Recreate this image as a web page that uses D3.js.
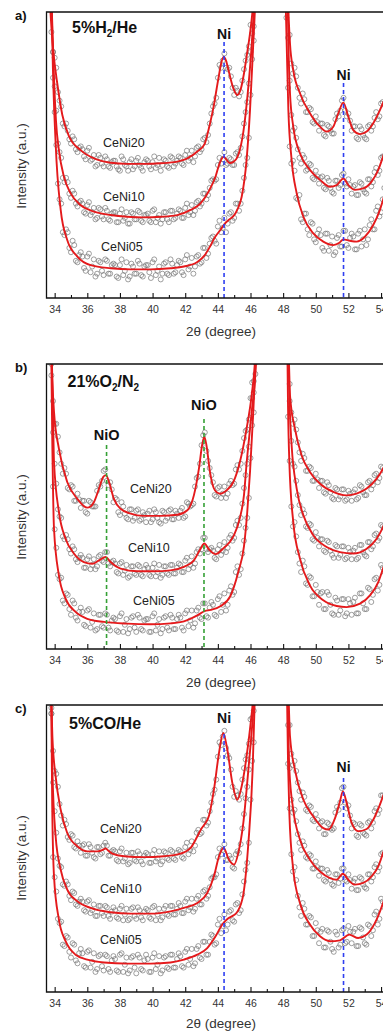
<!DOCTYPE html>
<html>
<head>
<meta charset="utf-8">
<script src="https://cdnjs.cloudflare.com/ajax/libs/d3/7.8.5/d3.min.js"></script>
<style>
  body { margin: 0; background: #fff; }
  svg { display: block; font-family: Arial, "Liberation Sans", sans-serif; }
</style>
</head>
<body>
<svg id="svg" width="383" height="1032"></svg>
<script>
// ---- axis ticks ----
const majorTicks = [34, 36, 38, 40, 42, 44, 46, 48, 50, 52, 54, 56];
const minorTicks = [35, 37, 39, 41, 43, 45, 47, 49, 51, 53, 55];
const sampleNames = ['CeNi20', 'CeNi10', 'CeNi05'];

// ---- 2theta scan points (left and right of the CeO2 (200) reflection) ----
const scanLeft = [33.6,33.8,34.0,34.2,34.4,34.6,34.8,35.0,35.2,35.4,35.6,35.8,36.0,36.2,36.4,36.6,36.8,37.0,37.2,37.4,
  37.6,37.8,38.0,38.2,38.4,38.6,38.8,39.0,39.2,39.4,39.6,39.8,40.0,40.2,40.4,40.6,40.8,41.0,41.2,41.4,
  41.6,41.8,42.0,42.2,42.4,42.6,42.8,43.0,43.2,43.4,43.6,43.8,44.0,44.2,44.4,44.6,44.8,45.0,45.2,45.4,
  45.6,45.8,46.0,46.2,46.4];
const scanLeftMid = [33.7,33.9,34.1,34.3,34.5,34.7,34.9,35.1,35.3,35.5,35.7,35.9,36.1,36.3,36.5,36.7,36.9,37.1,37.3,37.5,
  37.7,37.9,38.1,38.3,38.5,38.7,38.9,39.1,39.3,39.5,39.7,39.9,40.1,40.3,40.5,40.7,40.9,41.1,41.3,41.5,
  41.7,41.9,42.1,42.3,42.5,42.7,42.9,43.1,43.3,43.5,43.7,43.9,44.1,44.3,44.5,44.7,44.9,45.1,45.3,45.5,
  45.7,45.9,46.1,46.3];
const scanRight = [48.2,48.4,48.6,48.8,49.0,49.2,49.4,49.6,49.8,50.0,50.2,50.4,50.6,50.8,51.0,51.2,51.4,51.6,51.8,52.0,
  52.2,52.4,52.6,52.8,53.0,53.2,53.4,53.6,53.8,54.0,54.2,54.4,54.6];
const scanRightMid = [48.3,48.5,48.7,48.9,49.1,49.3,49.5,49.7,49.9,50.1,50.3,50.5,50.7,50.9,51.1,51.3,51.5,51.7,51.9,52.1,
  52.3,52.5,52.7,52.9,53.1,53.3,53.5,53.7,53.9,54.1,54.3,54.5];

// ---- observed intensities (a.u., 0..100 = plot height) ----
// a) 5%H2/He
const obsH2_20L = [118,93,84,72,67,60,58.5,54,55.5,51, 53,49.5,51.5,48,50,46.5,49,46,48.5,45.5,
  48,46,44.5,48.5,46,47.5,45,48,46.5,44.5, 48.5,46,47.5,45.5,49,46.5,48,45.5,49,47,
  49.5,47,50,48,51.5,49.5,53,52,56,57, 64.5,68,77,80.5,85.5,80,77.5,71,72.5,72, 80,85,95.5,104,118];
const obsH2_20Lm = [105,86,80.5,69,61,61,55.5,56.5,52,52.5, 52,48.5,52.5,48.5,46,50,47,49.5,46,47.5,
  48,45,49.5,46.5,44.5,48.5,46,49,45.5,47.5, 48,45,49.5,46.5,44.5,48.5,46,49.5,46,48,
  49,46.5,51.5,49,47.5,52.5,51,55.5,54.5,61, 67,70,81.5,83,80.5,80.5,73.5,73.5,70.5,76, 83,88,102.5,112.5];
const obsH2_20R = [115,92,78.5,77.5,70,71.5,65,66.5,61.5,63.5, 58.5,61,56.5,60,57.5,62.5,63.5,69,65.5,64.5,
  58.5,60,55.5,59,56,60,58.5,63,62.5,68, 67.5,73.5,74];
const obsH2_20Rm = [101,82,80.5,73.5,68,69.5,65,66,61,61.5, 61,57,60.5,58.5,57.5,64.5,65.5,70,63.5,62,
  60,56,60,57,55.5,60.5,60,65,63.5,68.5, 71.5,71.5];
const obsH2_10L = [120,102,74,54,49,40.5,40.5,35,36.5,32, 34,30,32.5,29,31.5,28,31,27.5,30.5,27,
  30,26.5,29.5,27,30,26,29.5,27.5,30,26.5, 29,27,30.5,26.5,29,27.5,30,26.5,30.5,28,
  31,28,31.5,29,32.5,30.5,34,33,36.5,36, 41,41,46.5,47,51,47,48.5,46.5,51,52.5, 61,68.5,86,95,112];
const obsH2_10Lm = [116,86,65.5,51,42,42,36.5,37.5,33,33.5, 33,29.5,33.5,30,27.5,31.5,28.5,31.5,27.5,29.5,
  30,26.5,31,28,26,30,27.5,30.5,27,29, 29.5,26.5,31,28,26,30,27.5,30.5,27.5,29.5,
  30.5,28,33,30,29,33.5,32,36.5,34.5,38.5, 41.5,41.5,49,48.5,46.5,49,46.5,50.5,50,56.5, 65,75,92.5,105.5];
const obsH2_10R = [112,76,58.5,56,49,50,44.5,47,42,44.5, 40,42.5,38,41,37,41,38.5,43,40,41.5,
  36.5,39.5,36,40,37,41.5,39,44,43,49, 49.5,56,56.5];
const obsH2_10Rm = [91,64,59.5,52,47,49,45,46.5,41.5,42.5, 42,38.5,42,38.5,36.5,41,39.5,43.5,39,39.5,
  39,36,40.5,38,36.5,41.5,40.5,45.5,44.5,49.5, 53.5,53.5];
const obsH2_05L = [125,104,65,40,33,22,23,16,18.5,12.5, 16,10.5,14.5,9,13.5,8.5,12.5,8,13,8.5,
  12,7.5,11.5,8,12.5,7.5,11,8.5,12,7.5, 11.5,9,12.5,8,11,8.5,12.5,8,12,9,
  13,9,13.5,10,14,11,15,12.5,17.5,15.5, 21,20,25,23,28,26,30,28,33,33, 42,49,71,90,112];
const obsH2_05Lm = [126,77,53.5,34.5,23,24,17.5,20,13,15, 14.5,9.5,15.5,11,7.5,13,9.5,13.5,8.5,11.5,
  11.5,7,13.5,9.5,6.5,12,8.5,13,8,11, 11.5,7,13.5,9.5,6.5,12,8.5,13.5,8.5,11.5,
  12.5,8,15,11,8.5,14.5,12,17.5,14,19, 21.5,19,27,24.5,23,29.5,27,33,30.5,37.5, 46.5,56,83.5,102.5];
const obsH2_05R = [98,53,48,35,36,26.5,29.5,22,26,19.5, 24,17.5,22.5,16.5,21.5,16,22,18,23.5,17.5,
  22.5,17,22.5,18,24,20.5,27.5,24,32,30, 38.5,38,47];
const obsH2_05Rm = [73.5,47,44.5,34.5,27.5,29.5,24,26.5,20.5,22.5, 22,16.5,22.5,18.5,15,21,18,23.5,18.5,21,
  21.5,17,23.5,20.5,18.5,25.5,24,30.5,28.5,34.5, 39,39];

// b) 21%O2/N2
const obsO2_20L = [120,103,79,74.5,65,63.5,56.5,57.5,52,54.5, 49.5,52,47.5,51.5,50,55.5,57,62.5,59,58.5,
  51.5,52.5,47,50,46,49,45,48.5,45,48, 44.5,48.5,45.5,48,44.5,48.5,45,48.5,45.5,48.5,
  46,49.5,46.5,51,50.5,57,60.5,71.5,76,66, 61,54,56.5,53,57,54.5,59,58,64.5,65, 74,77,88,94,113];
const obsO2_20Lm = [113,87,79,69,61.5,61.5,56,57,52,52.5, 52,48,52,50,50,57.5,59,63,57.5,56,
  53,48,51.5,47.5,45.5,49,46,49,45.5,47, 47.5,44.5,49,46,44,48,46,49,45.5,47.5,
  48.5,46,51.5,50,51,60,65,75,69.5,63.5, 58.5,53.5,57,54.5,53,58,57.5,63,63,69.5, 76.5,80.5,93.5,104.5];
const obsO2_20R = [118,93,79,77,69,68.5,62.5,64,59,61.5, 56.5,59,54.5,57.5,53,56.5,52.5,56,52,55.5,
  52,56,53,57,54,58.5,56,61,58.5,64, 62.5,69,68.5];
const obsO2_20Rm = [101,83,80.5,72.5,66,67,62.5,63.5,59,59.5, 59,55,58.5,55,52.5,56,53.5,56,52.5,54.5,
  55,52.5,57.5,55,54,59,57.5,61.5,60,63.5, 66.5,66.5];
const obsO2_10L = [118,100,65,49,46,38.5,38.5,33.5,35,30.5, 33,28.5,31.5,28,31.5,29,33,30.5,34,29,
  31,27,30,26,29.5,25.5,29,26,29,25.5, 29.5,26,28.5,25.5,29.5,26,29,26,29.5,26.5,
  30,27,31,28,32.5,30,35,35,39,34, 35.5,32,35,33,37.5,35.5,40,39,45,46, 56.5,65,81,90,108];
const obsO2_10Lm = [119,76,58,46.5,39.5,40,35,36,31.5,32, 32,28.5,32.5,29.5,28,32.5,31,34,30,30.5,
  30,26.5,30.5,27.5,25,29,26.5,29.5,26,28, 28.5,25.5,30,27,25,29,26.5,29.5,26.5,28.5,
  29.5,27,32,29.5,28.5,34,33.5,39,35,35, 34.5,31.5,36.5,34.5,34,39,38,43.5,43.5,51, 61,71,88,100.5];
const obsO2_10R = [115,87,65,59,50.5,49,43,44,38.5,41, 36,38.5,34,37.5,33,36.5,32,36,31.5,35.5,
  31.5,35.5,32,36.5,33,37.5,35,40,38,43.5, 42.5,49,49];
const obsO2_10Rm = [101,73,64,54,47,47.5,42.5,43.5,38,39, 38.5,34.5,38,34.5,32,36,33,36,32,34,
  34.5,31.5,36.5,34,32.5,37.5,36,40.5,39,43, 46.5,46.5];
const obsO2_05L = [125,96,42,26,25,16,19,12,16,10, 14.5,8.5,13.5,7.5,12.5,7,12,7.5,12,6.5,
  11,6.5,11.5,6,10.5,7,11.5,6,11,6.5, 10.5,6,11.5,6.5,10.5,7,11.5,6.5,11,7,
  12,7.5,12.5,8,13.5,9,14.5,10.5,16,11, 16.5,12,17.5,13,19.5,15.5,22,20,29,28, 38,46,67,83,106];
const obsO2_05Lm = [119.5,57,35.5,24.5,17,19.5,14,17,11,13, 13,8,14,9.5,6.5,12,8,12.5,7.5,10,
  10.5,6,12.5,8.5,5.5,11,7.5,12,7,10, 10.5,6,12.5,8.5,5.5,11,7.5,12,7,10.5,
  11,6.5,13.5,10,7.5,13.5,11,16,11.5,14.5, 15.5,11.5,18.5,15.5,13.5,20.5,19,27,26,33.5, 42.5,53,78.5,96.5];
const obsO2_05R = [110,66,43,39.5,30,31,23,25.5,18.5,22.5, 15.5,20,14,19,12.5,18,12,17.5,11.5,17.5,
  12,18,12.5,19.5,14,21.5,16.5,24.5,20.5,29.5, 27,36.5,35];
const obsO2_05Rm = [81.5,50,44.5,34,27,29,22.5,25,18.5,20, 19.5,14,20,15.5,12,17,13.5,17.5,12.5,16,
  16.5,12.5,19.5,16,14,21,19,25,22.5,28.5, 32.5,32];

// c) 5%CO/He
const obsCO_20L = [116,97,77,71.5,61.5,60,54,55,50.5,52.5, 48.5,51.5,47.5,50.5,47,50.5,48,51,51,47.5,
  49.5,46,49,45.5,48.5,45,48.5,45.5,48,44.5, 48.5,45,48,45.5,49,45.5,48.5,46,49,46,
  49.5,47,50.5,48,52.5,51,56.5,55.5,60,59, 66,70.5,82,86,91,82.5,77.5,68,68.5,69, 78,82.5,95,104,117];
const obsCO_20Lm = [107,84,76,65.5,58,58.5,53,54.5,50,51, 51,47.5,51.5,48.5,46.5,50.5,48.5,52,47.5,49,
  49,45.5,50,46.5,44.5,48.5,46,49,45.5,47.5, 48,45,49.5,46.5,44.5,49,46.5,49.5,46.5,48.5,
  49,46.5,52,49.5,49,55.5,55,60,58,63, 69,74,87,89,85,81.5,71.5,70,67,74, 81,86.5,101.5,112.5];
const obsCO_20R = [120,93,79,77,70,69.5,63.5,65,60,62, 57,59.5,55,58.5,56.5,62.5,63.5,71,66,65,
  57,58.5,54,58,55,59,57,63,62,68.5, 68,74,73.5];
const obsCO_20Rm = [101,83,80.5,73,67,68,63,64.5,59.5,60, 59,55,59,57,57,64.5,66,71.5,64,61.5,
  59,54.5,58.5,55.5,54.5,59.5,59,64,63.5,68.5, 71.5,71.5];
const obsCO_10L = [120,97,63,46.5,43.5,37,37.5,32,34.5,30, 32.5,28.5,31.5,27.5,30.5,26.5,30,26.5,29.5,25.5,
  29.5,26,29,25,29,25.5,29.5,25.5,28.5,25, 29,26,29.5,25,29,26,30,26.5,30,27,
  31,27.5,31.5,28.5,32.5,29,33.5,30.5,35.5,33.5, 39.5,40,47,48,51.5,46,46.5,43,49,51.5, 62,71.5,88,98,115];
const obsCO_10Lm = [116,73,55.5,44,37.5,38.5,33.5,35,30.5,31.5, 31.5,28,32,28.5,26.5,30,27.5,30,26.5,28,
  28.5,25.5,30,27,25,29,26.5,29.5,26,28, 28.5,25.5,30,27,25,29,27,30,27,29,
  30,27.5,32.5,29.5,28,32.5,30.5,35,32.5,36.5, 40,41,50,49.5,46,47.5,43.5,48,48.5,57, 67.5,77.5,95.5,107.5];
const obsCO_10R = [115,78,62.5,59.5,52,52.5,47,48,43,45.5, 40.5,43,38.5,41.5,37.5,41,38,43,39,41,
  36,39.5,35.5,39.5,36.5,41,38.5,43.5,42,48, 48,55,55];
const obsCO_10Rm = [93,67,63.5,55,49.5,51,46.5,47.5,43,43.5, 43,39,42.5,39,37,41,39.5,43,38.5,39,
  38.5,35.5,40,37.5,36,41,40,44.5,43.5,48.5, 52.5,53];
const obsCO_05L = [126,99,40,25.5,24.5,16,19,12,16.5,10, 15,9,14,8.5,13.5,8,13,7.5,12.5,7,
  12.5,7.5,13,7,12,7.5,12.5,6.5,12,7.5, 13,7,12,8,12.5,7.5,12.5,8,13,8.5,
  13.5,9,14,9.5,15,10,16,11.5,17.5,13, 20,16.5,23.5,20.5,27,23.5,28.5,24.5,31,28.5, 38.5,45,67,87,112];
const obsCO_05Lm = [119.5,47,35,24,16.5,19.5,14,17,11,13.5, 13.5,8.5,14.5,10.5,7,12.5,9,13,8,11,
  11.5,7,13.5,9.5,6.5,12,8.5,13,8,11, 11.5,7,13.5,9.5,6.5,12,8.5,13,8.5,11.5,
  12.5,8.5,15,11.5,9,15,12,17.5,13,17.5, 19.5,17,25.5,23,21.5,28,25,30.5,27.5,34, 42.5,52,80.5,102.5];
const obsCO_05R = [110,64,42,39,29.5,31,23.5,26.5,19.5,24, 17,22,15.5,21,15,21,15.5,21.5,17,23,
  17,22,16,22,17,23.5,19.5,27,23.5,32.5, 29.5,39.5,37.5];
const obsCO_05Rm = [79.5,48,43.5,33.5,26.5,29,23.5,26,19.5,21.5, 21,15.5,21.5,17.5,14,20,16.5,22,17.5,21,
  21,16,22.5,19,16.5,23,21.5,28,25.5,31.5, 35.5,35];

// ---- fitted profiles [2theta, intensity] ----
const fitH2_20L = [[33.7,104],[33.86,90],[33.96,84],[34.16,75],[34.47,64],[34.88,56.5],[35.59,51.7],[36.41,48.8],[37.43,47.3],[38.45,46.9],[39.47,46.9],[40.49,47.1],[41.51,47.7],[42.13,48.8],[42.74,51.2],[43.2,54],[43.35,57],[43.52,61],[43.76,67.5],[43.92,73],[44.07,78],[44.2,82],[44.36,84.4],[44.5,83],[44.68,79],[44.95,73.3],[45.19,71],[45.4,73],[45.6,78.5],[45.76,84.4],[45.97,92.5],[46.13,100.7],[46.25,110]];
const fitH2_20R = [[48.28,108],[48.34,98],[48.42,89],[48.62,79.7],[49.03,71.6],[49.64,64.6],[50.26,59.9],[50.66,58.2],[51.07,59.9],[51.38,64.6],[51.69,68.3],[51.99,63.4],[52.3,58.7],[52.71,57.3],[53.12,58.2],[53.52,61.1],[53.93,65.7],[54.4,72],[55,80]];
const fitH2_10L = [[33.8,105],[33.9,88],[33.96,77],[34.08,62],[34.26,51.7],[34.57,42.4],[34.98,36.6],[35.59,32.5],[36.41,30.2],[37.43,29.0],[38.45,28.4],[39.47,28.2],[40.49,28.4],[41.51,29.0],[42.33,30.8],[42.94,33.1],[43.46,37.5],[43.86,42.5],[44.1,47],[44.36,49.4],[44.5,48.6],[44.72,47.2],[44.95,47.6],[45.25,50],[45.56,58],[45.87,74],[46.07,88],[46.2,100],[46.3,110]];
const fitH2_10R = [[48.26,110],[48.32,90],[48.42,71.6],[48.62,59.9],[49.03,50.6],[49.64,44.8],[50.26,41.3],[50.87,38.9],[51.28,39.5],[51.69,41.8],[51.99,39.5],[52.4,37.8],[52.91,38.3],[53.42,40.7],[53.83,44.8],[54.12,49.4],[54.4,54],[55,62]];
const fitH2_05L = [[33.8,110],[33.86,89],[34.06,54.1],[34.37,30.8],[34.77,20.3],[35.39,14.5],[36.2,11.5],[37.43,10.4],[38.65,10.0],[39.88,10.0],[41.1,10.4],[41.92,11.0],[42.74,12.6],[43.2,15],[43.51,17.9],[43.85,21.5],[44.13,23.6],[44.44,26.1],[44.7,27.5],[44.95,28.6],[45.2,31],[45.46,35.4],[45.76,48.3],[45.97,65.7],[46.17,89],[46.27,101],[46.32,110]];
const fitH2_05R = [[48.12,110],[48.17,100],[48.32,65.7],[48.52,48.3],[48.83,36.6],[49.24,28.4],[49.85,22.6],[50.46,19.7],[51.07,18.5],[51.45,19.3],[51.69,20.5],[52.09,20.0],[52.5,19.7],[53.01,21.4],[53.52,25.5],[53.93,30.8],[54.12,34.3],[54.4,40],[55,50]];

const fitO2_20L = [[33.75,110],[33.85,95],[33.96,83.2],[34.26,70.3],[34.77,58.6],[35.39,52.7],[36.0,49.6],[36.2,50],[36.41,51.6],[36.72,56.3],[36.98,60.4],[37.15,61.0],[37.33,58.6],[37.63,52.7],[38.04,49.2],[38.66,47.5],[39.47,46.7],[40.49,46.7],[41.51,47.1],[42.13,48.7],[42.53,53.9],[42.84,63.3],[43.05,72],[43.17,74.4],[43.3,71.5],[43.52,62],[43.82,55.7],[44.13,54.5],[44.54,55.7],[44.95,58.6],[45.35,65.6],[45.76,77.3],[46.07,89],[46.27,100.7],[46.35,110]];
const fitO2_20R = [[48.3,110],[48.36,100],[48.42,89],[48.72,77.3],[49.13,68],[49.64,62.1],[50.26,58.0],[51.07,55.1],[51.89,53.9],[52.5,54.5],[53.12,56.3],[53.73,59.8],[54.12,63.3],[54.4,67],[55,75]];
const fitO2_10L = [[33.8,110],[33.9,82],[33.96,65.6],[34.26,48.1],[34.67,38.7],[35.18,33.5],[35.79,30.5],[36.3,29.9],[36.72,31.1],[37.12,32.3],[37.43,30.5],[38.04,28.2],[39.06,27.3],[40.08,27.3],[41.1,27.6],[41.92,28.8],[42.53,31.1],[42.94,35.2],[43.17,37.0],[43.45,35.0],[43.86,33.3],[44.37,35.5],[44.95,39.5],[45.35,46],[45.6,54],[45.76,65],[46.07,83],[46.34,101],[46.4,110]];
const fitO2_10R = [[48.3,110],[48.4,85],[48.52,71.5],[48.83,56.3],[49.24,46.9],[49.85,39.9],[50.66,35.8],[51.48,34.0],[52.3,33.5],[53.12,35.2],[53.73,38.7],[54.12,42.8],[54.4,47],[55,55]];
const fitO2_05L = [[33.78,110],[33.85,75],[33.96,42.2],[34.26,25.8],[34.67,17.7],[35.28,13.0],[36.0,10.6],[37.02,9.5],[38.45,8.9],[39.88,8.7],[41.1,9.0],[41.92,9.7],[42.74,11.8],[43.19,13.3],[43.56,13.7],[44.15,15],[44.76,18.5],[45.25,27],[45.6,36],[45.8,48],[45.97,62.1],[46.17,83.2],[46.32,102],[46.38,110]];
const fitO2_05R = [[48.25,110],[48.3,85],[48.38,65.6],[48.62,44.6],[49.03,31.7],[49.64,22.3],[50.46,17.1],[51.28,15.1],[51.89,14.7],[52.71,15.9],[53.32,18.8],[53.83,23.5],[54.12,28.2],[54.4,33],[55,42]];

const fitCO_20L = [[33.75,110],[33.86,89.1],[34.06,75.1],[34.37,63.5],[34.77,55.4],[35.39,50.8],[36.0,49.0],[36.61,49.0],[36.95,49.5],[37.12,50.0],[37.3,49.2],[37.53,48.2],[38.25,47.3],[39.47,47.0],[40.69,47.3],[41.71,48.2],[42.33,50.2],[42.74,54.2],[43.0,57],[43.2,58.5],[43.46,61.5],[43.76,70.5],[44.07,83.3],[44.33,90.3],[44.58,84.4],[44.89,72.8],[45.19,67.0],[45.46,71.7],[45.76,82.1],[46.01,93.7],[46.15,102],[46.22,110]];
const fitCO_20R = [[48.3,110],[48.36,98],[48.42,89.1],[48.72,77.5],[49.24,67],[49.85,61.2],[50.46,57.1],[50.77,56.6],[51.18,60.6],[51.48,66.4],[51.66,69.9],[51.89,65.9],[52.2,58.9],[52.6,56.0],[53.12,56.8],[53.52,60.0],[53.93,65.3],[54.12,68.2],[54.4,72],[55,80]];
const fitCO_10L = [[33.78,110],[33.86,77.5],[34.06,54.2],[34.37,42.6],[34.77,35.7],[35.39,31.6],[36.2,29.3],[37.43,27.8],[38.65,27.3],[39.88,27.3],[41.1,28.1],[41.92,29.3],[42.74,31.0],[43.35,34.5],[43.76,40.3],[44.07,47.3],[44.35,50.2],[44.68,46.1],[45.0,44.4],[45.25,48.4],[45.56,58.9],[45.87,77.5],[46.13,94.9],[46.25,105],[46.3,112]];
const fitCO_10R = [[48.26,110],[48.38,77.5],[48.62,63.5],[49.03,53.1],[49.64,46.1],[50.26,42.0],[50.87,39.7],[51.28,39.1],[51.66,41.2],[51.99,39.1],[52.4,37.4],[52.91,38.0],[53.42,40.3],[53.83,43.8],[54.12,48.4],[54.4,53],[55,61]];
const fitCO_05L = [[33.78,110],[33.85,65],[33.96,40.3],[34.26,25.2],[34.67,17.7],[35.28,13.0],[36.0,11.3],[37.02,10.3],[38.45,9.9],[39.88,9.9],[41.1,10.3],[41.92,11.3],[42.74,13.0],[43.35,15.3],[43.86,19.4],[44.27,23.5],[44.6,25.5],[44.99,26.8],[45.2,28],[45.56,34],[45.87,51.9],[46.13,77.5],[46.25,100],[46.3,110]];
const fitCO_05R = [[48.22,110],[48.3,80],[48.38,62.4],[48.62,42.6],[49.03,31.0],[49.64,23.5],[50.26,19.4],[50.87,17.7],[51.48,18.0],[52.05,20.0],[52.6,18.8],[53.12,20.0],[53.62,24.0],[54.12,31.0],[54.4,36],[55,46]];

// ---- reflection markers ----
const niPeaks = [44.38, 51.7];
const nioPeaks = [37.18, 43.15];

// ---- layout ----
const blue = '#2f3ff0', green = '#35a035';
const panels = [
  { letter: 'a)', letterY: 20, top: 12, bottom: 298,
    title: [['5%H', 0], ['2', 1], ['/He', 0]], titleX: 72, titleY: 33,
    obs: [[obsH2_20L, obsH2_20R, obsH2_20Lm, obsH2_20Rm], [obsH2_10L, obsH2_10R, obsH2_10Lm, obsH2_10Rm],
          [obsH2_05L, obsH2_05R, obsH2_05Lm, obsH2_05Rm]],
    fit: [[fitH2_20L, fitH2_20R], [fitH2_10L, fitH2_10R], [fitH2_05L, fitH2_05R]],
    names: [[103, 146.5], [103, 200.5], [101, 251]],
    marks: [{ x: niPeaks[0], text: 'Ni', ty: 39, top: 42, color: blue },
            { x: niPeaks[1], text: 'Ni', ty: 80, top: 83, color: blue }],
    ylabY: 166, xtitleY: 335.5 },
  { letter: 'b)', letterY: 372, top: 364, bottom: 649,
    title: [['21%O', 0], ['2', 1], ['/N', 0], ['2', 1]], titleX: 67.5, titleY: 386.5,
    obs: [[obsO2_20L, obsO2_20R, obsO2_20Lm, obsO2_20Rm], [obsO2_10L, obsO2_10R, obsO2_10Lm, obsO2_10Rm],
          [obsO2_05L, obsO2_05R, obsO2_05Lm, obsO2_05Rm]],
    fit: [[fitO2_20L, fitO2_20R], [fitO2_10L, fitO2_10R], [fitO2_05L, fitO2_05R]],
    names: [[130, 492.5], [128, 551.5], [133, 604.5]],
    marks: [{ x: nioPeaks[0], text: 'NiO', ty: 440, top: 445, color: green },
            { x: nioPeaks[1], text: 'NiO', ty: 410, top: 419, color: green }],
    ylabY: 517, xtitleY: 686.5 },
  { letter: 'c)', letterY: 712.5, top: 705, bottom: 992,
    title: [['5%CO/He', 0]], titleX: 69, titleY: 729,
    obs: [[obsCO_20L, obsCO_20R, obsCO_20Lm, obsCO_20Rm], [obsCO_10L, obsCO_10R, obsCO_10Lm, obsCO_10Rm],
          [obsCO_05L, obsCO_05R, obsCO_05Lm, obsCO_05Rm]],
    fit: [[fitCO_20L, fitCO_20R], [fitCO_10L, fitCO_10R], [fitCO_05L, fitCO_05R]],
    names: [[100, 832.5], [100, 892.5], [100, 943.5]],
    marks: [{ x: niPeaks[0], text: 'Ni', ty: 723, top: 734, color: blue },
            { x: niPeaks[1], text: 'Ni', ty: 772, top: 778, color: blue }],
    ylabY: 858, xtitleY: 1027.5 }
];

const svg = d3.select('#svg');
const W = 383;
const x = d3.scaleLinear().domain([33.5, 56]).range([46.5, 413.7]);
const line = d3.line().x(d => x(d[0])).curve(d3.curveMonotoneX);
const pair = (xs, ys) => xs.map((t, i) => [t, ys[i]]);

panels.forEach((p, k) => {
  const y = d3.scaleLinear().domain([0, 100]).range([p.bottom, p.top]);
  line.y(d => y(d[1]));
  const g = svg.append('g');

  g.append('clipPath').attr('id', 'clip' + k)
    .append('rect')
    .attr('x', x(33.5)).attr('y', p.top)
    .attr('width', W - x(33.5)).attr('height', p.bottom - p.top);
  const plot = g.append('g').attr('clip-path', `url(#clip${k})`);

  // data points
  p.obs.forEach(([L, R, Lm, Rm]) => {
    const pts = pair(scanLeft, L).concat(pair(scanLeftMid, Lm), pair(scanRight, R), pair(scanRightMid, Rm));
    plot.append('g').selectAll('circle')
      .data(pts)
      .join('circle')
      .attr('cx', d => x(d[0]))
      .attr('cy', d => y(d[1]))
      .attr('r', 2.5)
      .attr('fill', 'none')
      .attr('stroke', '#757575')
      .attr('stroke-width', 0.7);
  });

  // fitted curves
  p.fit.forEach(segs => segs.forEach(s => {
    plot.append('path')
      .attr('d', line(s))
      .attr('fill', 'none')
      .attr('stroke', '#e41a1c')
      .attr('stroke-width', 1.9);
  }));

  // reflection markers
  p.marks.forEach(m => {
    g.append('line')
      .attr('x1', x(m.x)).attr('x2', x(m.x))
      .attr('y1', m.top).attr('y2', p.bottom)
      .attr('stroke', m.color).attr('stroke-width', 1.6)
      .attr('stroke-dasharray', '4,3');
    g.append('text')
      .attr('x', x(m.x)).attr('y', m.ty)
      .attr('text-anchor', 'middle')
      .attr('font-size', m.text === 'NiO' ? 14.5 : 14)
      .attr('font-weight', 'bold')
      .attr('fill', '#111')
      .text(m.text);
  });

  // sample labels
  p.names.forEach((n, i) => {
    g.append('text')
      .attr('x', n[0]).attr('y', n[1])
      .attr('font-size', 12.5)
      .attr('fill', '#222')
      .text(sampleNames[i]);
  });

  // axes
  const ax = g.append('g').attr('transform', `translate(0,${p.bottom})`)
    .call(d3.axisBottom(x).tickValues(majorTicks).tickSize(-5).tickSizeOuter(0).tickPadding(8));
  ax.select('.domain').remove();
  ax.attr('font-family', 'Arial, "Liberation Sans", sans-serif').attr('font-size', 10.5);
  ax.selectAll('line').attr('stroke', '#111').attr('stroke-width', 1.1);
  ax.selectAll('text').attr('fill', '#333');

  const axm = g.append('g').attr('transform', `translate(0,${p.bottom})`)
    .call(d3.axisBottom(x).tickValues(minorTicks).tickSize(-3).tickSizeOuter(0).tickFormat(''));
  axm.select('.domain').remove();
  axm.selectAll('line').attr('stroke', '#111').attr('stroke-width', 1.1);

  // frame (left, top, bottom)
  g.append('path')
    .attr('d', `M${W},${p.top}H${x(33.5)}V${p.bottom}H${W}`)
    .attr('fill', 'none')
    .attr('stroke', '#111')
    .attr('stroke-width', 1.3);

  // titles
  const t = g.append('text')
    .attr('x', p.titleX).attr('y', p.titleY)
    .attr('font-size', 16).attr('font-weight', 'bold').attr('fill', '#111');
  let low = false;
  p.title.forEach(([s, sub]) => {
    const ts = t.append('tspan').text(s);
    if (sub && !low) { ts.attr('font-size', 10).attr('dy', 4); low = true; }
    else if (!sub && low) { ts.attr('dy', -4); low = false; }
  });

  g.append('text')
    .attr('x', 15).attr('y', p.letterY)
    .attr('font-size', 13).attr('font-weight', 'bold').attr('fill', '#111')
    .text(p.letter);

  g.append('text')
    .attr('transform', `translate(26,${p.ylabY}) rotate(-90)`)
    .attr('text-anchor', 'middle')
    .attr('font-size', 13.5).attr('fill', '#333')
    .text('Intensity (a.u.)');

  g.append('text')
    .attr('x', 221).attr('y', p.xtitleY)
    .attr('text-anchor', 'middle')
    .attr('font-size', 13.5).attr('fill', '#333')
    .text('2θ (degree)');
});
</script>
</body>
</html>
